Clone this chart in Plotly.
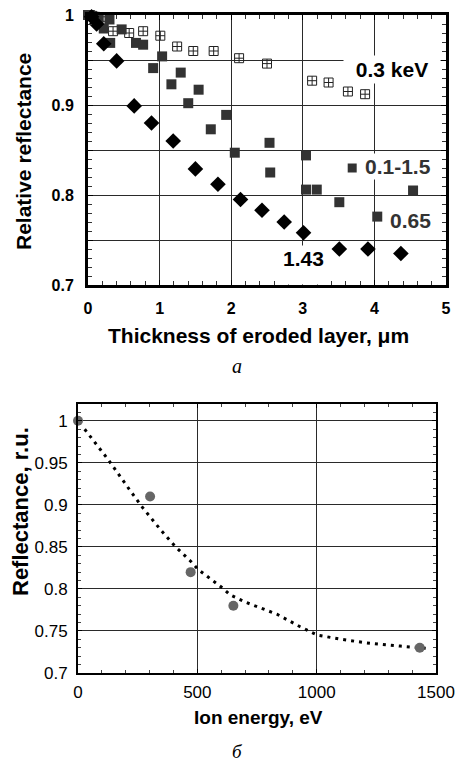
import plotly.graph_objects as go

# ---------------- data: panel (a) ----------------
thick_03 = [0.03, 0.10, 0.20, 0.35, 0.575, 0.77, 1.01, 1.245, 1.47, 1.755, 2.11, 2.50, 3.13, 3.36, 3.63, 3.87]
refl_03 = [1.000, 0.998, 0.993, 0.982, 0.980, 0.982, 0.977, 0.965, 0.960, 0.960, 0.952, 0.946, 0.927, 0.925, 0.915, 0.912]

thick_01_15 = [0.00, 0.06, 0.15, 0.30, 0.47, 0.77, 1.035, 1.295, 1.545, 1.93, 2.535, 3.045, 4.54]
refl_01_15 = [1.000, 0.999, 0.997, 0.995, 0.984, 0.967, 0.954, 0.936, 0.917, 0.889, 0.858, 0.844, 0.805]

thick_065 = [0.03, 0.10, 0.22, 0.31, 0.67, 0.91, 1.165, 1.40, 1.715, 2.05, 2.545, 3.045, 3.195, 3.51, 4.04]
refl_065 = [0.999, 0.996, 0.985, 0.969, 0.969, 0.941, 0.923, 0.902, 0.873, 0.847, 0.825, 0.806, 0.806, 0.792, 0.776]

thick_143 = [0.05, 0.12, 0.22, 0.40, 0.645, 0.887, 1.19, 1.50, 1.815, 2.13, 2.43, 2.74, 3.01, 3.51, 3.91, 4.37]
refl_143 = [0.998, 0.990, 0.968, 0.949, 0.899, 0.880, 0.860, 0.829, 0.812, 0.795, 0.783, 0.770, 0.758, 0.740, 0.740, 0.735]

key_01_15_x = [3.69]
key_01_15_y = [0.830]

a_xticks = [0, 1, 2, 3, 4, 5]
a_yticks = [0.70, 0.75, 0.80, 0.85, 0.90, 0.95, 1.00]
a_yticktext = ["0.7", "", "0.8", "", "0.9", "", "1"]

# ---------------- data: panel (б) ----------------
energy = [0, 302, 472, 651, 1432]
refl_energy = [1.000, 0.910, 0.820, 0.780, 0.730]
fit_energy = [28, 52, 126, 221, 270, 350, 409, 472, 504, 606, 637, 704, 833, 931, 1003, 1106, 1204, 1350, 1477]
fit_refl = [0.990, 0.981, 0.954, 0.916, 0.897, 0.869, 0.850, 0.833, 0.823, 0.801, 0.793, 0.784, 0.770, 0.755, 0.745, 0.740, 0.736, 0.732, 0.729]

b_xticks = [0, 500, 1000, 1500]
b_yticks = [0.70, 0.75, 0.80, 0.85, 0.90, 0.95, 1.00]
b_yticktext = ["0.7", "0.75", "0.8", "0.85", "0.9", "0.95", "1"]

W, H = 455, 765
def px(v):
    return v / W
def py(v):
    return 1 - v / H

SANS = "Liberation Sans"
SERIF = "Liberation Serif"

fig = go.Figure()

sq_color = "#333333"
fig.add_trace(go.Scatter(x=thick_03, y=refl_03, mode="markers", cliponaxis=False,
                         marker=dict(symbol="square-cross-open", size=9, color="#222",
                                     line=dict(width=1, color="#222")),
                         xaxis="x", yaxis="y", showlegend=False))
fig.add_trace(go.Scatter(x=thick_065, y=refl_065, mode="markers", cliponaxis=False,
                         marker=dict(symbol="square", size=10, color=sq_color),
                         xaxis="x", yaxis="y", showlegend=False))
fig.add_trace(go.Scatter(x=thick_01_15, y=refl_01_15, mode="markers", cliponaxis=False,
                         marker=dict(symbol="square", size=10, color=sq_color),
                         xaxis="x", yaxis="y", showlegend=False))
fig.add_trace(go.Scatter(x=thick_143, y=refl_143, mode="markers", cliponaxis=False,
                         marker=dict(symbol="diamond", size=12, color="black"),
                         xaxis="x", yaxis="y", showlegend=False))
fig.add_trace(go.Scatter(x=key_01_15_x, y=key_01_15_y, mode="markers", cliponaxis=False,
                         marker=dict(symbol="square", size=9, color=sq_color),
                         xaxis="x", yaxis="y", showlegend=False))

fig.add_trace(go.Scatter(x=fit_energy, y=fit_refl, mode="lines",
                         line=dict(color="black", width=3, dash="3px,5px"),
                         xaxis="x2", yaxis="y2", showlegend=False))
fig.add_trace(go.Scatter(x=energy, y=refl_energy, mode="markers", cliponaxis=False,
                         marker=dict(symbol="circle", size=10, color="#666666"),
                         xaxis="x2", yaxis="y2", showlegend=False))

grid = "#2a2a2a"
common_axis = dict(showline=True, linecolor="black", mirror="allticks", zeroline=False,
                   showgrid=True, gridcolor=grid, gridwidth=1, tickcolor="black",
                   automargin=False)

fig.update_layout(
    width=W, height=H, margin=dict(l=0, r=0, t=0, b=0, autoexpand=False),
    paper_bgcolor="white", plot_bgcolor="white", showlegend=False,
    xaxis=dict(common_axis, domain=[px(88), px(446)], anchor="y", range=[0, 5],
               tickmode="array", tickvals=a_xticks, linewidth=3,
               ticks="inside", ticklen=5,
               minor=dict(dtick=0.2, tick0=0, ticks="inside", ticklen=4, tickcolor="#333", showgrid=False),
               tickfont=dict(family=SANS, size=16, weight="bold", color="black"),
               ticklabelstandoff=7),
    yaxis=dict(common_axis, domain=[py(285), py(15)], anchor="x", range=[0.7, 1.0],
               tickmode="array", tickvals=a_yticks, ticktext=a_yticktext, linewidth=3,
               ticks="inside", ticklen=5,
               minor=dict(dtick=0.01, tick0=0.7, ticks="inside", ticklen=4, tickcolor="#333", showgrid=False),
               tickfont=dict(family=SANS, size=16, weight="bold", color="black"),
               ticklabelstandoff=8),
    xaxis2=dict(common_axis, domain=[px(78), px(436)], anchor="y2", range=[0, 1500],
                tickmode="array", tickvals=b_xticks, linewidth=2,
                ticks="inside", ticklen=4,
                minor=dict(dtick=100, tick0=0, ticks="inside", ticklen=3, tickcolor="#444", showgrid=False),
                tickfont=dict(family=SANS, size=17, color="black"),
                ticklabelstandoff=3),
    yaxis2=dict(common_axis, domain=[py(673), py(404)], anchor="x2", range=[0.7, 1.02],
                tickmode="array", tickvals=b_yticks, ticktext=b_yticktext, linewidth=2,
                ticks="inside", ticklen=4,
                minor=dict(dtick=0.01, tick0=0.7, ticks="inside", ticklen=3, tickcolor="#444", showgrid=False),
                tickfont=dict(family=SANS, size=17, color="black"),
                ticklabelstandoff=5),
)

ann = []
C = dict(xanchor="center", yanchor="middle", showarrow=False)
# panel (a) series labels with white boxes
ann.append(dict(C, x=4.25, y=0.939, xref="x", yref="y", text="0.3 keV",
                font=dict(family=SANS, size=21, weight="bold", color="black"),
                bgcolor="white", width=92, borderpad=2))
ann.append(dict(C, x=4.33, y=0.832, xref="x", yref="y", text="0.1-1.5",
                font=dict(family=SANS, size=21, weight="bold", color="#333"),
                bgcolor="white", borderpad=1))
ann.append(dict(C, x=4.50, y=0.772, xref="x", yref="y", text="0.65",
                font=dict(family=SANS, size=21, weight="bold", color="#333"),
                bgcolor="white", borderpad=1))
ann.append(dict(C, x=3.005, y=0.7225, xref="x", yref="y", text="1.43",
                font=dict(family=SANS, size=21, weight="bold", color="black"),
                bgcolor="white", height=36, valign="top", borderpad=1))
# axis titles and captions
ann.append(dict(C, x=px(24), y=py(152), xref="paper", yref="paper", text="Relative reflectance",
                textangle=-90, font=dict(family=SANS, size=21, weight="bold", color="black")))
ann.append(dict(C, x=px(258), y=py(335), xref="paper", yref="paper", text="Thickness of eroded layer, μm",
                font=dict(family=SANS, size=21, weight="bold", color="black")))
ann.append(dict(C, x=px(237), y=py(366), xref="paper", yref="paper", text="<i>a</i>",
                font=dict(family=SERIF, size=20, color="black")))
ann.append(dict(C, x=px(21), y=py(512), xref="paper", yref="paper", text="Reflectance, r.u.",
                textangle=-90, font=dict(family=SANS, size=22, weight="bold", color="black")))
ann.append(dict(C, x=px(258), y=py(717), xref="paper", yref="paper", text="Ion energy, eV",
                font=dict(family=SANS, size=19, weight="bold", color="black")))
ann.append(dict(C, x=px(237), y=py(751), xref="paper", yref="paper", text="<i>б</i>",
                font=dict(family=SERIF, size=19, color="black")))
fig.update_layout(annotations=ann)

fig.write_html("out.html", config={"displayModeBar": False},
               post_script="document.body.style.margin='0';document.body.style.overflow='hidden';")
